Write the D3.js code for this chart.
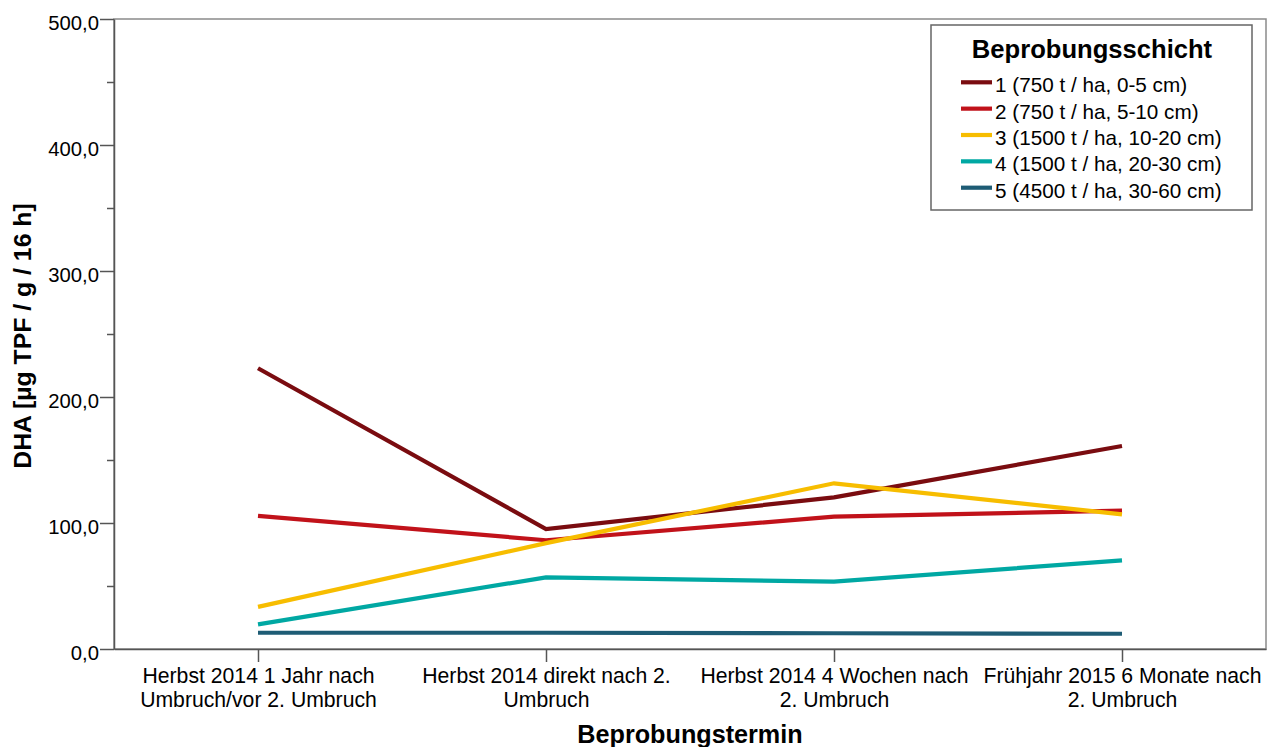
<!DOCTYPE html>
<html>
<head>
<meta charset="utf-8">
<script src="https://cdn.jsdelivr.net/npm/d3@7"></script>
<style>
  html, body { margin: 0; padding: 0; background: #fff; }
  svg { display: block; font-family: "Liberation Sans", Arial, sans-serif; }
</style>
</head>
<body>
<svg id="chart" width="1279" height="747"></svg>
<script>
// Sampling dates (x categories), each label split into its two printed lines
const categories = ["T1", "T2", "T3", "T4"];
const categoryLines = [
  ["Herbst 2014 1 Jahr nach", "Umbruch/vor 2. Umbruch"],
  ["Herbst 2014 direkt nach 2.", "Umbruch"],
  ["Herbst 2014 4 Wochen nach", "2. Umbruch"],
  ["Frühjahr 2015 6 Monate nach", "2. Umbruch"]
];

// Sampling layers (series)
const seriesNames = [
  "1 (750 t / ha, 0-5 cm)",
  "2 (750 t / ha, 5-10 cm)",
  "3 (1500 t / ha, 10-20 cm)",
  "4 (1500 t / ha, 20-30 cm)",
  "5 (4500 t / ha, 30-60 cm)"
];
const seriesColors = ["#7a0c10", "#c1121a", "#f7bd00", "#00a8a3", "#1e5c75"];

// DHA values [µg TPF / g / 16 h] per layer and date
const layer1 = [222.8, 95.2, 120.4, 161.1];
const layer2 = [105.6, 86.3, 105.0, 109.8];
const layer3 = [33.4, 84.0, 131.5, 106.9];
const layer4 = [19.6, 56.9, 53.4, 70.4];
const layer5 = [12.9, 12.9, 12.5, 12.1];
const seriesValues = [layer1, layer2, layer3, layer4, layer5];

const yMajorTicks = [0, 100, 200, 300, 400, 500];
const yMinorTicks = [50, 150, 250, 350, 450];

const svg = d3.select("#chart");
const plotLeft = 114, plotRight = 1266, plotTop = 19, plotBottom = 649;

const x = d3.scalePoint().domain(categories).range([plotLeft, plotRight]).padding(0.5);
const y = d3.scaleLinear().domain([0, 500]).range([plotBottom, plotTop]);
const fmt = v => d3.format(".1f")(v).replace(".", ",");

// plot frame
svg.append("rect")
  .attr("x", plotLeft).attr("y", plotTop)
  .attr("width", plotRight - plotLeft).attr("height", plotBottom - plotTop)
  .attr("fill", "none").attr("stroke", "#8a8a8a").attr("stroke-width", 1.5);

// y axis
const yAxis = svg.append("g").attr("transform", `translate(${plotLeft},0)`)
  .call(d3.axisLeft(y).tickValues(yMajorTicks).tickFormat(fmt)
    .tickSize(14).tickSizeOuter(0).tickPadding(1));
yAxis.select(".domain").attr("stroke", "#555").attr("stroke-width", 1.5);
yAxis.selectAll(".tick line").attr("stroke", "#555").attr("stroke-width", 1.5);
yAxis.selectAll(".tick text")
  .attr("font-size", 20.3).attr("fill", "#000").attr("dy", "0.52em")
  .attr("font-family", "Liberation Sans, Arial, sans-serif");

const yMinor = svg.append("g").attr("transform", `translate(${plotLeft},0)`)
  .call(d3.axisLeft(y).tickValues(yMinorTicks).tickFormat("").tickSize(7));
yMinor.select(".domain").remove();
yMinor.selectAll(".tick line").attr("stroke", "#555").attr("stroke-width", 1.5);

// x axis
const xAxis = svg.append("g").attr("transform", `translate(0,${plotBottom})`)
  .call(d3.axisBottom(x).tickSize(13).tickSizeOuter(0).tickFormat(""));
xAxis.select(".domain").attr("stroke", "#555").attr("stroke-width", 1.5);
xAxis.selectAll(".tick line").attr("stroke", "#555").attr("stroke-width", 1.5);

// two-line category labels under each tick
xAxis.selectAll(".tick").each(function(d, i) {
  categoryLines[i].forEach((line, k) => {
    d3.select(this).append("text")
      .attr("text-anchor", "middle").attr("fill", "#000")
      .attr("font-size", 21.2).attr("x", 0).attr("y", 34 + k * 23.5)
      .attr("font-family", "Liberation Sans, Arial, sans-serif")
      .text(line);
  });
});

// axis titles
svg.append("text")
  .attr("x", (plotLeft + plotRight) / 2).attr("y", 743)
  .attr("text-anchor", "middle").attr("font-weight", "bold").attr("font-size", 25.2)
  .attr("fill", "#000").text("Beprobungstermin");

svg.append("text")
  .attr("transform", `translate(31,${(plotTop + plotBottom) / 2 + 2}) rotate(-90)`)
  .attr("text-anchor", "middle").attr("font-weight", "bold").attr("font-size", 24.8)
  .attr("fill", "#000").text("DHA [µg TPF / g / 16 h]");

// series lines
const line = d3.line().x((d, i) => x(categories[i])).y(d => y(d));
svg.append("g").selectAll("path")
  .data(seriesValues)
  .join("path")
  .attr("d", line)
  .attr("fill", "none")
  .attr("stroke", (d, i) => seriesColors[i])
  .attr("stroke-width", 4.2)
  .attr("stroke-linejoin", "miter");

// legend
const legend = svg.append("g");
legend.append("rect")
  .attr("x", 931).attr("y", 25).attr("width", 321).attr("height", 185)
  .attr("fill", "#fff").attr("stroke", "#666").attr("stroke-width", 1.5);
legend.append("text")
  .attr("x", 1092).attr("y", 58)
  .attr("text-anchor", "middle").attr("font-weight", "bold").attr("font-size", 25.6)
  .attr("fill", "#000").text("Beprobungsschicht");

const rows = legend.selectAll("g.row")
  .data(seriesNames)
  .join("g")
  .attr("class", "row")
  .attr("transform", (d, i) => `translate(0,${82.3 + i * 26.35})`);
rows.append("line")
  .attr("x1", 961).attr("x2", 992).attr("y1", 0).attr("y2", 0)
  .attr("stroke", (d, i) => seriesColors[i]).attr("stroke-width", 4.2);
rows.append("text")
  .attr("x", 995).attr("y", 10)
  .attr("font-size", 20.7).attr("fill", "#000")
  .text(d => d);
</script>
</body>
</html>
